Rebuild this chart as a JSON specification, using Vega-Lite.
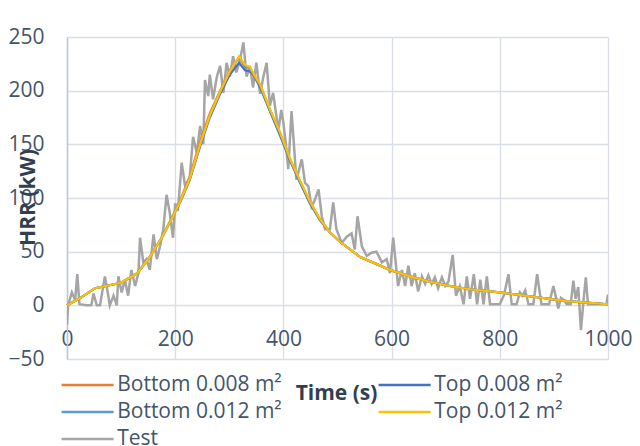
{
  "$schema": "https://vega.github.io/schema/vega-lite/v6.json",
  "width": 541,
  "height": 322,
  "autosize": {"type": "none"},
  "padding": {"left": 67, "top": 37, "right": 32, "bottom": 87},
  "background": "white",
  "config": {
    "view": {"stroke": null},
    "font": "Open Sans",
    "legend": {
      "orient": "none",
      "direction": "horizontal",
      "legendX": 8.6,
      "legendY": 336,
      "columns": 2,
      "columnPadding": 90,
      "rowPadding": 5,
      "symbolType": "M-2.5,0H2.5",
      "symbolSize": 433,
      "symbolStrokeWidth": 2.5,
      "labelFontSize": 21,
      "labelColor": "#44546A",
      "labelOffset": 17.6,
      "labelLimit": 300
    }
  },
  "datasets": {
    "model": [
      {"t": 0, "b008": 0, "t008": 0, "b012": 0, "t012": 0},
      {"t": 25, "b008": 7, "t008": 7, "b012": 7, "t012": 7},
      {"t": 52, "b008": 16, "t008": 16, "b012": 16, "t012": 16},
      {"t": 100, "b008": 21, "t008": 21, "b012": 21, "t012": 21},
      {"t": 130, "b008": 30, "t008": 30, "b012": 30, "t012": 30},
      {"t": 153, "b008": 45, "t008": 45, "b012": 45, "t012": 45},
      {"t": 175, "b008": 63, "t008": 63, "b012": 63, "t012": 63},
      {"t": 196, "b008": 84, "t008": 83, "b012": 83, "t012": 83},
      {"t": 210, "b008": 99, "t008": 97, "b012": 98, "t012": 98},
      {"t": 227, "b008": 120, "t008": 117, "b012": 118, "t012": 118},
      {"t": 246, "b008": 153, "t008": 148, "b012": 150, "t012": 150},
      {"t": 264, "b008": 179, "t008": 175, "b012": 177, "t012": 177},
      {"t": 283, "b008": 200, "t008": 197, "b012": 199, "t012": 199},
      {"t": 301, "b008": 219, "t008": 215, "b012": 218, "t012": 218},
      {"t": 318, "b008": 231, "t008": 226, "b012": 231, "t012": 232},
      {"t": 329, "b008": 222, "t008": 219, "b012": 223, "t012": 224},
      {"t": 338, "b008": 222, "t008": 218, "b012": 221, "t012": 222},
      {"t": 346, "b008": 212, "t008": 214, "b012": 214, "t012": 215},
      {"t": 357, "b008": 205, "t008": 203, "b012": 205, "t012": 206},
      {"t": 375, "b008": 182, "t008": 181, "b012": 182, "t012": 183},
      {"t": 394, "b008": 160, "t008": 158, "b012": 160, "t012": 161},
      {"t": 412, "b008": 136, "t008": 135, "b012": 136, "t012": 137},
      {"t": 431, "b008": 115, "t008": 114, "b012": 115, "t012": 116},
      {"t": 449, "b008": 96, "t008": 95, "b012": 96, "t012": 97},
      {"t": 468, "b008": 80, "t008": 79, "b012": 80, "t012": 80},
      {"t": 486, "b008": 68, "t008": 68, "b012": 68, "t012": 68},
      {"t": 505, "b008": 59, "t008": 59, "b012": 59, "t012": 59},
      {"t": 542, "b008": 45, "t008": 45, "b012": 45, "t012": 45},
      {"t": 579, "b008": 37, "t008": 37, "b012": 37, "t012": 37},
      {"t": 597, "b008": 33, "t008": 33, "b012": 33, "t012": 33},
      {"t": 634, "b008": 27, "t008": 27, "b012": 27, "t012": 27},
      {"t": 671, "b008": 22, "t008": 22, "b012": 22, "t012": 22},
      {"t": 708, "b008": 18, "t008": 18, "b012": 18, "t012": 18},
      {"t": 745, "b008": 15, "t008": 15, "b012": 15, "t012": 15},
      {"t": 800, "b008": 12, "t008": 12, "b012": 12, "t012": 12},
      {"t": 862, "b008": 8, "t008": 8, "b012": 8, "t012": 8},
      {"t": 924, "b008": 4, "t008": 4, "b012": 4, "t012": 4},
      {"t": 1000, "b008": 1, "t008": 1, "b012": 1, "t012": 1}
    ],
    "test": [
      {"t": 0, "hrr": -18}, {"t": 2, "hrr": 0}, {"t": 9, "hrr": 12}, {"t": 15, "hrr": 5},
      {"t": 19, "hrr": 29}, {"t": 23, "hrr": 1}, {"t": 36, "hrr": 0}, {"t": 45, "hrr": 0},
      {"t": 49, "hrr": 11}, {"t": 55, "hrr": 0}, {"t": 61, "hrr": 0}, {"t": 70, "hrr": 27},
      {"t": 76, "hrr": 10}, {"t": 79, "hrr": 0}, {"t": 86, "hrr": 9}, {"t": 92, "hrr": 0},
      {"t": 95, "hrr": 27}, {"t": 101, "hrr": 12}, {"t": 107, "hrr": 24}, {"t": 113, "hrr": 9},
      {"t": 119, "hrr": 33}, {"t": 126, "hrr": 18}, {"t": 132, "hrr": 30}, {"t": 135, "hrr": 63},
      {"t": 141, "hrr": 40}, {"t": 147, "hrr": 43}, {"t": 153, "hrr": 33}, {"t": 160, "hrr": 66},
      {"t": 166, "hrr": 43}, {"t": 172, "hrr": 55}, {"t": 178, "hrr": 71}, {"t": 184, "hrr": 103},
      {"t": 190, "hrr": 86}, {"t": 196, "hrr": 63}, {"t": 200, "hrr": 95}, {"t": 205, "hrr": 88},
      {"t": 212, "hrr": 133}, {"t": 218, "hrr": 112}, {"t": 224, "hrr": 116}, {"t": 227, "hrr": 120},
      {"t": 233, "hrr": 157}, {"t": 240, "hrr": 142}, {"t": 246, "hrr": 167}, {"t": 252, "hrr": 150},
      {"t": 255, "hrr": 210}, {"t": 261, "hrr": 195}, {"t": 264, "hrr": 215}, {"t": 270, "hrr": 192},
      {"t": 277, "hrr": 213}, {"t": 283, "hrr": 223}, {"t": 289, "hrr": 198}, {"t": 295, "hrr": 226},
      {"t": 301, "hrr": 213}, {"t": 307, "hrr": 232}, {"t": 313, "hrr": 217}, {"t": 320, "hrr": 229},
      {"t": 326, "hrr": 245}, {"t": 332, "hrr": 213}, {"t": 338, "hrr": 223}, {"t": 344, "hrr": 203},
      {"t": 350, "hrr": 226}, {"t": 357, "hrr": 197}, {"t": 363, "hrr": 213}, {"t": 369, "hrr": 226},
      {"t": 375, "hrr": 186}, {"t": 381, "hrr": 198}, {"t": 388, "hrr": 173}, {"t": 391, "hrr": 164},
      {"t": 396, "hrr": 182}, {"t": 400, "hrr": 170}, {"t": 405, "hrr": 148}, {"t": 409, "hrr": 127},
      {"t": 415, "hrr": 181}, {"t": 420, "hrr": 146}, {"t": 424, "hrr": 117}, {"t": 434, "hrr": 136},
      {"t": 440, "hrr": 114}, {"t": 446, "hrr": 111}, {"t": 452, "hrr": 92}, {"t": 458, "hrr": 98},
      {"t": 465, "hrr": 108}, {"t": 471, "hrr": 83}, {"t": 477, "hrr": 71}, {"t": 486, "hrr": 71},
      {"t": 492, "hrr": 96}, {"t": 498, "hrr": 71}, {"t": 508, "hrr": 58}, {"t": 517, "hrr": 64},
      {"t": 526, "hrr": 67}, {"t": 532, "hrr": 52}, {"t": 537, "hrr": 83}, {"t": 545, "hrr": 55},
      {"t": 554, "hrr": 46}, {"t": 563, "hrr": 49}, {"t": 572, "hrr": 50}, {"t": 582, "hrr": 40},
      {"t": 591, "hrr": 43}, {"t": 597, "hrr": 30}, {"t": 603, "hrr": 63}, {"t": 612, "hrr": 18},
      {"t": 619, "hrr": 33}, {"t": 625, "hrr": 18}, {"t": 631, "hrr": 37}, {"t": 637, "hrr": 18},
      {"t": 643, "hrr": 30}, {"t": 649, "hrr": 13}, {"t": 656, "hrr": 27}, {"t": 662, "hrr": 20},
      {"t": 668, "hrr": 28}, {"t": 674, "hrr": 20}, {"t": 680, "hrr": 26}, {"t": 686, "hrr": 16},
      {"t": 693, "hrr": 26}, {"t": 699, "hrr": 18}, {"t": 705, "hrr": 22}, {"t": 713, "hrr": 47},
      {"t": 719, "hrr": 9}, {"t": 726, "hrr": 18}, {"t": 733, "hrr": 1}, {"t": 739, "hrr": 27},
      {"t": 745, "hrr": 6}, {"t": 752, "hrr": 29}, {"t": 758, "hrr": 1}, {"t": 764, "hrr": 24},
      {"t": 770, "hrr": 1}, {"t": 776, "hrr": 27}, {"t": 782, "hrr": 1}, {"t": 800, "hrr": 1},
      {"t": 808, "hrr": 10}, {"t": 816, "hrr": 29}, {"t": 822, "hrr": 1}, {"t": 831, "hrr": 1},
      {"t": 837, "hrr": 12}, {"t": 842, "hrr": 9}, {"t": 847, "hrr": 14}, {"t": 853, "hrr": 1},
      {"t": 862, "hrr": 1}, {"t": 869, "hrr": 29}, {"t": 877, "hrr": 1}, {"t": 891, "hrr": 1},
      {"t": 899, "hrr": 18}, {"t": 904, "hrr": 7}, {"t": 908, "hrr": -3}, {"t": 913, "hrr": 7},
      {"t": 918, "hrr": 5}, {"t": 924, "hrr": 1}, {"t": 931, "hrr": 1}, {"t": 936, "hrr": 23},
      {"t": 940, "hrr": 6}, {"t": 945, "hrr": 17}, {"t": 950, "hrr": -23}, {"t": 955, "hrr": 6},
      {"t": 959, "hrr": 26}, {"t": 963, "hrr": 1}, {"t": 997, "hrr": 1}, {"t": 1000, "hrr": 10}
    ]
  },
  "encoding": {
    "x": {
      "field": "t",
      "type": "quantitative",
      "scale": {"domain": [0, 1000], "nice": false},
      "axis": {
        "values": [0, 200, 400, 600, 800, 1000],
        "format": "d",
        "domain": false,
        "ticks": false,
        "grid": true,
        "gridColor": "#D9DEE7",
        "gridWidth": 1.3,
        "labelFontSize": 21,
        "labelColor": "#44546A",
        "labelPadding": -31,
        "labelFlush": false,
        "title": "Time (s)",
        "titleFontSize": 21,
        "titleFontWeight": "bold",
        "titleColor": "#333F50",
        "titleX": 269,
        "titleY": 34,
        "titleAlign": "center",
        "titleBaseline": "middle"
      }
    },
    "y": {
      "type": "quantitative",
      "scale": {"domain": [-50, 250], "nice": false},
      "axis": {
        "values": [-50, 0, 50, 100, 150, 200, 250],
        "domain": true,
        "domainColor": "#BCC6D6",
        "domainWidth": 1.5,
        "ticks": false,
        "grid": true,
        "gridColor": "#D9DEE7",
        "gridWidth": 1.3,
        "labelFontSize": 21,
        "labelColor": "#44546A",
        "labelPadding": 23,
        "labelFlush": false,
        "title": "HRR (kW)",
        "titleFontSize": 21,
        "titleFontWeight": "bold",
        "titleColor": "#333F50",
        "titleX": -39,
        "titleY": 160,
        "titleAngle": -90,
        "titleAlign": "center",
        "titleBaseline": "middle"
      }
    }
  },
  "layer": [
    {
      "data": {"name": "test"},
      "mark": {"type": "line", "strokeWidth": 2.5, "clip": true},
      "encoding": {
        "y": {"field": "hrr", "type": "quantitative"},
        "color": {
          "datum": "test",
          "type": "nominal",
          "scale": {
            "domain": ["b008", "t008", "b012", "t012", "test"],
            "range": ["#ED7D31", "#4472C4", "#5B9BD5", "#FFC000", "#A5A5A5"]
          }
        }
      }
    },
    {
      "data": {"name": "model"},
      "transform": [{"fold": ["b008", "t008", "b012", "t012"], "as": ["series", "hrr"]}],
      "mark": {"type": "line", "strokeWidth": 2.2},
      "encoding": {
        "y": {"field": "hrr", "type": "quantitative"},
        "color": {
          "field": "series",
          "type": "nominal",
          "scale": {
            "domain": ["b008", "t008", "b012", "t012", "test"],
            "range": ["#ED7D31", "#4472C4", "#5B9BD5", "#FFC000", "#A5A5A5"]
          },
          "sort": ["b008", "t008", "b012", "t012", "test"],
          "legend": {
            "title": null,
            "labelExpr": "{'b008': 'Bottom 0.008 m²', 't008': 'Top 0.008 m²', 'b012': 'Bottom 0.012 m²', 't012': 'Top 0.012 m²', 'test': 'Test'}[datum.label]"
          }
        }
      }
    }
  ]
}
